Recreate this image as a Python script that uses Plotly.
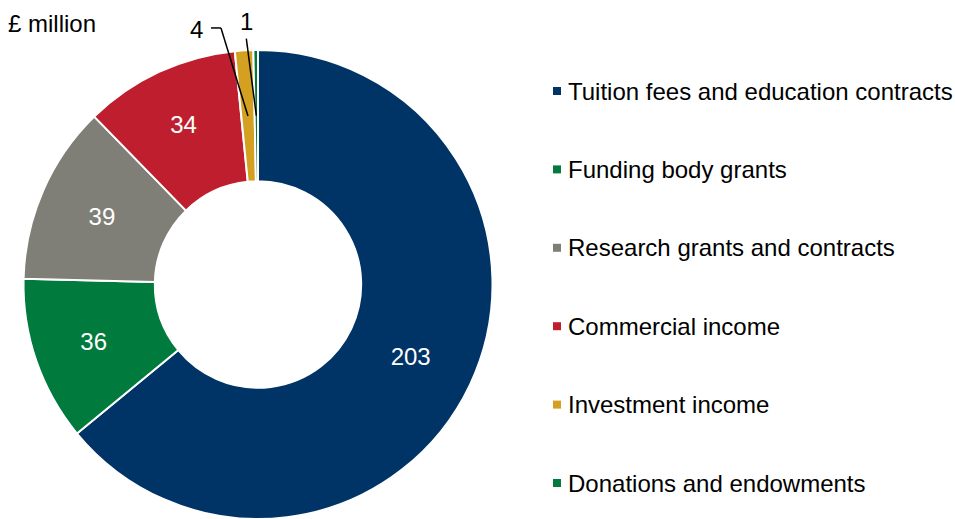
import math
import plotly.graph_objects as go

# Income sources, £ million
categories = [
    "Tuition fees and education contracts",
    "Funding body grants",
    "Research grants and contracts",
    "Commercial income",
    "Investment income",
    "Donations and endowments",
]
values = [203, 36, 39, 34, 4, 1]
colors = ["#003366", "#007A3D", "#7F7F77", "#BE1E2D", "#D4A021", "#007A3D"]

W, H = 955, 519
FONT = "Liberation Sans, Arial, sans-serif"
FS = 24
HOLE = 0.44

# pie placement in pixels
dom_h = 469
cx, cy = 258, H - dom_h / 2
R = dom_h / 2

def to_paper(px, py):
    return px / W, 1 - py / H

# inside labels only for the larger slices
texts = [str(v) if v >= 10 else "" for v in values]

fig = go.Figure(go.Pie(
    labels=categories,
    values=values,
    text=texts,
    textinfo="text",
    textposition="inside",
    insidetextorientation="horizontal",
    textfont=dict(family=FONT, size=FS, color="white"),
    hole=HOLE,
    sort=False,
    direction="clockwise",
    rotation=0,
    marker=dict(colors=colors, line=dict(color="white", width=2)),
    domain=dict(x=[(cx - R) / W, (cx + R) / W], y=[0, dom_h / H]),
    showlegend=False,
    hoverinfo="label+value",
))

shapes = []
annotations = []

# leader lines for the thin slices, anchored at slice mid-angle on the ring centre
total = sum(values)
r_mid = R * (1 + HOLE) / 2
cum = 0
anchors = []
for v in values:
    mid = (cum + v / 2) / total * 2 * math.pi
    anchors.append((cx + r_mid * math.sin(mid), cy - r_mid * math.cos(mid)))
    cum += v

line_style = dict(color="black", width=1.5)

# "4" : elbow leader
ex, ey = anchors[4]
kx, ky = ex - 27, ey - 88
tx, ty = kx - 10, ky
for (x0, y0), (x1, y1) in [((ex, ey), (kx, ky)), ((kx, ky), (tx, ty))]:
    a0, b0 = to_paper(x0, y0)
    a1, b1 = to_paper(x1, y1)
    shapes.append(dict(type="line", xref="paper", yref="paper",
                       x0=a0, y0=b0, x1=a1, y1=b1, line=line_style))
ax_, ay_ = to_paper(tx - 6, ty + 2)
annotations.append(dict(text=str(values[4]), x=ax_, y=ay_, xref="paper", yref="paper",
                        xanchor="right", yanchor="middle", showarrow=False,
                        font=dict(family=FONT, size=FS, color="black")))

# "1" : straight leader
ex, ey = anchors[5]
sx, sy = ex - 10, ey - 77
a0, b0 = to_paper(ex, ey)
a1, b1 = to_paper(sx, sy)
shapes.append(dict(type="line", xref="paper", yref="paper",
                   x0=a0, y0=b0, x1=a1, y1=b1, line=line_style))
ax_, ay_ = to_paper(sx, sy - 2)
annotations.append(dict(text=str(values[5]), x=ax_, y=ay_, xref="paper", yref="paper",
                        xanchor="center", yanchor="bottom", showarrow=False,
                        font=dict(family=FONT, size=FS, color="black")))

# unit label
annotations.append(dict(text="£ million", x=to_paper(6, 0)[0], y=to_paper(0, 24)[1],
                        xref="paper", yref="paper", xanchor="left", yanchor="middle",
                        showarrow=False, font=dict(family=FONT, size=FS, color="black")))

# legend: square swatch + label, evenly spaced
leg_x, leg_y0, leg_dy, sw = 553, 91, 78.4, 8
for i, (name, col) in enumerate(zip(categories, colors)):
    y = leg_y0 + i * leg_dy
    x0, y0 = to_paper(leg_x, y - sw / 2)
    x1, y1 = to_paper(leg_x + sw, y + sw / 2)
    shapes.append(dict(type="rect", xref="paper", yref="paper",
                       x0=x0, y0=y0, x1=x1, y1=y1,
                       fillcolor=col, line=dict(width=0)))
    lx, ly = to_paper(leg_x + 13, y)
    annotations.append(dict(text=name, x=lx, y=ly, xref="paper", yref="paper",
                            xanchor="left", yanchor="middle", showarrow=False,
                            font=dict(family=FONT, size=FS, color="black")))

fig.update_layout(
    width=W, height=H,
    margin=dict(l=0, r=0, t=0, b=0),
    paper_bgcolor="white",
    plot_bgcolor="white",
    shapes=shapes,
    annotations=annotations,
)

fig.write_html("out.html")
